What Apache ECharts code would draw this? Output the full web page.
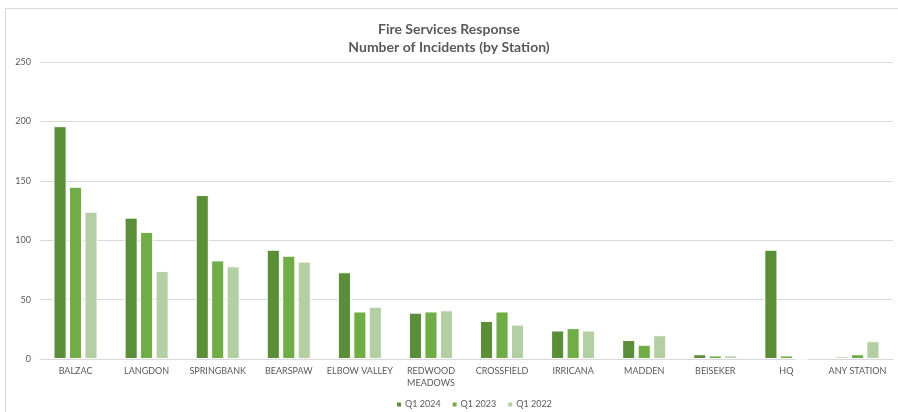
<!DOCTYPE html>
<html>
<head>
<meta charset="utf-8">
<script src="https://cdn.jsdelivr.net/npm/echarts@6/dist/echarts.min.js"></script>
<style>
  html, body { margin: 0; padding: 0; background: #fff; }
  #chart { width: 898px; height: 412px; }
</style>
</head>
<body>
<div id="chart"></div>
<script>
// Stations and incident counts per quarter
const stations = ['BALZAC', 'LANGDON', 'SPRINGBANK', 'BEARSPAW', 'ELBOW VALLEY', 'REDWOOD\nMEADOWS',
  'CROSSFIELD', 'IRRICANA', 'MADDEN', 'BEISEKER', 'HQ', 'ANY STATION'];
const seriesNames = ['Q1 2024', 'Q1 2023', 'Q1 2022'];
const q1_2024 = [196, 119, 138, 92, 73, 39, 32, 24, 16, 4, 92, 2];
const q1_2023 = [145, 107, 83, 87, 40, 40, 40, 26, 12, 3, 3, 4];
const q1_2022 = [124, 74, 78, 82, 44, 41, 29, 24, 20, 3, 0, 15];
const yTicks = [0, 50, 100, 150, 200, 250];

const colors = ['#5b8e38', '#70ad47', '#b5cfa5'];
const textColor = '#595959';
const font = 'Lato, "Open Sans", sans-serif';

const chart = echarts.init(document.getElementById('chart'));
const values = [q1_2024, q1_2023, q1_2022];

chart.setOption({
  animation: false,
  textStyle: { fontFamily: font },
  graphic: [{
    type: 'rect',
    shape: { x: 5.5, y: 8.5, width: 900, height: 420 },
    style: { fill: 'none', stroke: '#d9d9d9', lineWidth: 1 },
    silent: true
  }],
  title: {
    text: 'Fire Services Response\nNumber of Incidents (by Station)',
    left: 'center',
    top: 15,
    textStyle: {
      fontFamily: font,
      fontSize: 14,
      fontWeight: 'bold',
      color: textColor,
      lineHeight: 18
    }
  },
  legend: {
    data: seriesNames,
    top: 395,
    left: 390,
    icon: 'rect',
    itemWidth: 6,
    itemHeight: 6,
    itemGap: 10,
    textStyle: { fontSize: 9, color: textColor, fontFamily: font, padding: [0, 0, 0, -2] }
  },
  grid: { left: 40, right: 5, top: 62, bottom: 53, containLabel: false },
  xAxis: {
    type: 'category',
    data: stations,
    axisLine: { lineStyle: { color: '#d9d9d9' } },
    axisTick: { show: false },
    axisLabel: { color: textColor, fontSize: 9, margin: 6, lineHeight: 12, interval: 0, fontFamily: font }
  },
  yAxis: {
    type: 'value',
    min: yTicks[0],
    max: yTicks[yTicks.length - 1],
    interval: 50,
    axisLine: { show: false },
    axisTick: { show: false },
    axisLabel: { color: textColor, fontSize: 9, margin: 9, fontFamily: font },
    splitLine: { lineStyle: { color: '#d9d9d9' } }
  },
  series: seriesNames.map((name, i) => ({
    name,
    type: 'bar',
    data: values[i],
    barGap: '18%',
    barCategoryGap: '38%',
    itemStyle: { color: colors[i], borderColor: '#ffffff', borderWidth: 1 }
  }))
});
</script>
</body>
</html>
